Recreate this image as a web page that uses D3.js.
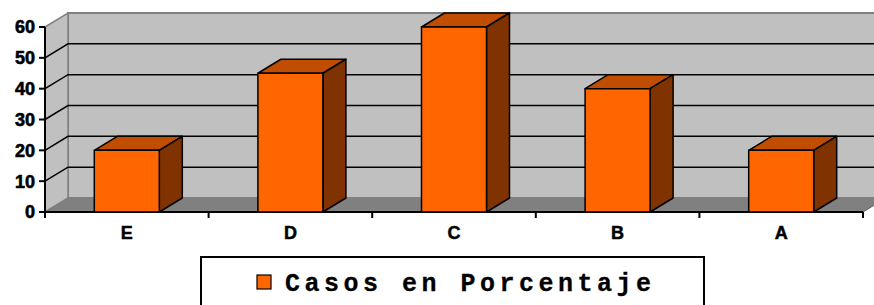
<!DOCTYPE html>
<html>
<head>
<meta charset="utf-8">
<script src="https://cdn.jsdelivr.net/npm/d3@7"></script>
<style>
  html, body { margin: 0; padding: 0; background: #fff; }
  svg { display: block; }
</style>
</head>
<body>
<svg id="chart" width="874" height="305"></svg>
<script>
// 3D column chart — "Casos en Porcentaje"

const categories = ["E", "D", "C", "B", "A"];
const values = [20, 45, 60, 40, 20];
const yTicks = [0, 10, 20, 30, 40, 50, 60];
const seriesName = "Casos en Porcentaje";

const W = 874, H = 305;
const X0 = 45, X1 = 863, Y0 = 212, Y1 = 27;
const DX = 23, DY = -14; // depth offset of the back wall

const svg = d3.select("#chart");

const x = d3.scaleBand().domain(categories).range([X0, X1]);
const y = d3.scaleLinear().domain([0, 60]).range([Y0, Y1]);
const barW = 65;

const pts = (arr) => arr.map((p) => p.join(",")).join(" ");

// floor
svg.append("polygon")
  .attr("points", pts([[X0, Y0], [X1, Y0], [X1 + DX, Y0 + DY], [X0 + DX, Y0 + DY]]))
  .attr("fill", "#808080").attr("stroke", "#606060").attr("stroke-width", 1);

// back wall
svg.append("rect")
  .attr("x", X0 + DX).attr("y", Y1 + DY)
  .attr("width", X1 - X0).attr("height", Y0 - Y1)
  .attr("fill", "#c0c0c0").attr("stroke", "#808080").attr("stroke-width", 2);

// left wall
svg.append("polygon")
  .attr("points", pts([[X0, Y1], [X0 + DX, Y1 + DY], [X0 + DX, Y0 + DY], [X0, Y0]]))
  .attr("fill", "#c0c0c0").attr("stroke", "#808080").attr("stroke-width", 1.5);

// gridlines (back wall + left wall)
const grid = svg.append("g").attr("stroke", "#000").attr("stroke-width", 1.5).attr("fill", "none");
yTicks.filter((t) => t > 0 && t < 60).forEach((t) => {
  grid.append("polyline")
    .attr("points", pts([[X0, y(t)], [X0 + DX, y(t) + DY], [X1 + DX, y(t) + DY]]));
});

// axes
const axis = svg.append("g").attr("stroke", "#000").attr("stroke-width", 2);
axis.append("line").attr("x1", X0).attr("x2", X0).attr("y1", Y1).attr("y2", Y0 + 1);
axis.append("line").attr("x1", X0).attr("x2", X1).attr("y1", Y0).attr("y2", Y0);
yTicks.forEach((t) => {
  axis.append("line").attr("x1", X0 - 6).attr("x2", X0).attr("y1", y(t)).attr("y2", y(t));
});
const bounds = categories.map((c) => x(c)).concat([X1]);
bounds.forEach((b) => {
  axis.append("line").attr("x1", b).attr("x2", b).attr("y1", Y0).attr("y2", Y0 + 6);
});

const font = "bold 18px 'Liberation Sans', Arial, sans-serif";
svg.append("g").selectAll("text").data(yTicks).enter().append("text")
  .attr("x", X0 - 10).attr("y", (d) => y(d)).attr("dy", "0.36em")
  .attr("text-anchor", "end").style("font", font)
  .attr("fill", "#000").attr("stroke", "#000").attr("stroke-width", 0.6)
  .text((d) => d);

svg.append("g").selectAll("text").data(categories).enter().append("text")
  .attr("x", (d) => x(d) + x.bandwidth() / 2).attr("y", 239)
  .attr("text-anchor", "middle").style("font", font)
  .attr("fill", "#000").attr("stroke", "#000").attr("stroke-width", 0.5)
  .text((d) => d);

// bars
const bars = svg.append("g").selectAll("g").data(categories.map((c, i) => ({ c, v: values[i] })))
  .enter().append("g")
  .attr("stroke", "#000").attr("stroke-width", 1.5).attr("stroke-linejoin", "round");

bars.each(function (d) {
  const g = d3.select(this);
  const l = x(d.c) + x.bandwidth() / 2 - barW / 2, r = l + barW;
  const t = y(d.v), b = y(0);
  g.append("polygon").attr("fill", "#c04d00")
    .attr("points", pts([[l, t], [r, t], [r + DX, t + DY], [l + DX, t + DY]]));
  g.append("polygon").attr("fill", "#803300")
    .attr("points", pts([[r, t], [r + DX, t + DY], [r + DX, b + DY], [r, b]]));
  g.append("rect").attr("fill", "#ff6600")
    .attr("x", l).attr("y", t).attr("width", barW).attr("height", b - t);
});

// legend
const lg = svg.append("g");
lg.append("rect").attr("x", 201).attr("y", 257).attr("width", 503).attr("height", 60)
  .attr("fill", "#fff").attr("stroke", "#000").attr("stroke-width", 2);
lg.append("rect").attr("x", 257).attr("y", 275).attr("width", 14).attr("height", 14)
  .attr("fill", "#ff6600").attr("stroke", "#000").attr("stroke-width", 1.2);
lg.append("text").attr("x", 285).attr("y", 291)
  .attr("textLength", 366).attr("lengthAdjust", "spacing")
  .style("font", "bold 25px 'Liberation Mono', 'Courier New', monospace")
  .attr("fill", "#000").attr("stroke", "#000").attr("stroke-width", 0.3)
  .text(seriesName);
</script>
</body>
</html>
